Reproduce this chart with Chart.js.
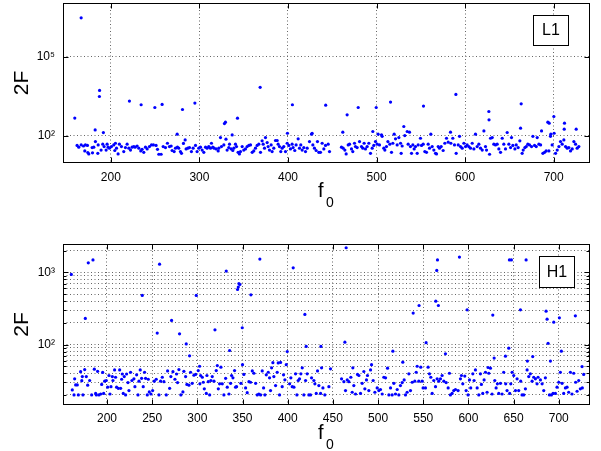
<!DOCTYPE html>
<html><head><meta charset="utf-8">
<script src="https://cdn.jsdelivr.net/npm/chart.js@4.4.0/dist/chart.umd.min.js"></script>
<style>
html,body{margin:0;padding:0;background:#fff;width:601px;height:451px;overflow:hidden}
canvas{position:absolute;left:0}
#c1{top:0px}
#c2{top:225px}
</style></head><body>
<canvas id="c1" width="601" height="220"></canvas>
<canvas id="c2" width="601" height="226"></canvas>
<script>
// ---- L1 detector (top panel) ----
const l1Freq = [
159.3,161.9,163.8,166.5,166.5,169.1,170.6,171.3,173.6,174.0,
175.1,178.9,179.3,180.8,182.3,182.6,185.3,185.7,187.1,187.3,
189.0,190.9,191.6,192.4,194.7,195.8,196.9,198.4,200.7,203.3,
204.5,205.2,206.4,208.2,209.7,212.0,214.6,216.5,218.4,220.3,
221.0,222.2,224.0,225.9,227.4,229.7,231.6,233.8,234.2,235.3,
237.2,239.1,241.0,243.6,245.9,248.1,249.7,251.1,252.7,254.2,
256.8,257.9,259.1,261.7,263.9,266.2,268.1,269.2,271.5,273.0,
274.9,275.2,276.7,278.6,279.8,280.9,282.0,283.9,285.0,286.9,
288.8,291.0,292.9,294.9,295.6,297.4,299.3,301.2,303.1,305.0,
306.9,308.7,310.6,312.5,313.6,315.1,316.6,318.9,321.2,321.9,
323.8,324.9,327.6,328.3,329.4,330.0,331.3,333.2,334.0,335.8,
337.0,337.7,338.9,340.7,341.9,343.0,343.7,345.2,346.4,348.3,
350.1,352.0,353.9,355.8,357.7,359.6,361.4,363.3,365.2,367.1,
368.6,369.0,370.8,372.0,373.5,374.6,376.5,377.6,379.1,381.0,
382.1,384.0,385.9,387.8,388.9,390.4,391.9,393.4,395.3,397.2,
399.1,399.4,401.0,402.8,404.7,405.0,405.8,407.7,409.2,411.5,
413.0,414.5,416.0,417.9,419.8,421.7,424.3,426.6,427.3,428.1,
429.9,431.8,433.3,434.8,436.7,438.6,440.5,442.4,442.6,445.4,
446.9,460.4,461.9,462.3,464.2,465.7,466.8,468.0,469.5,471.7,
473.2,475.1,476.2,478.1,479.3,480.8,483.0,484.5,486.0,487.5,
489.4,491.3,493.2,495.1,495.8,496.9,498.8,499.6,500.7,501.8,
503.3,505.6,506.3,508.2,509.4,511.2,512.8,515.0,515.8,516.9,
518.4,519.9,521.4,523.3,525.2,527.1,527.8,528.9,530.8,531.9,
534.6,535.7,537.2,538.3,539.5,541.0,542.5,544.0,545.9,547.0,
549.6,550.8,552.7,553.0,554.5,556.4,558.3,559.8,561.3,562.8,
564.7,566.6,567.7,569.6,571.1,573.0,575.2,577.1,579.0,580.9,
583.5,583.9,586.1,588.0,589.6,589.9,592.2,593.7,594.8,596.7,
598.6,600.5,602.3,604.2,606.1,608.0,609.9,611.7,613.6,615.5,
617.4,619.3,621.2,623.0,624.2,626.8,627.0,627.6,628.7,630.6,
632.4,634.3,636.2,638.1,640.0,641.9,643.7,645.6,647.5,649.4,
651.3,652.4,653.9,656.2,657.7,659.9,661.8,662.6,663.3,664.4,
665.6,667.5,669.0,670.8,672.7,675.0,676.5,678.4,680.3,681.4,
683.3,685.2,686.3,687.8,689.7,691.5,693.4,694.6,694.9,696.4,
696.8,698.3,700.2,700.5,702.1,704.0,705.9,707.7,709.6,711.5,
711.9,712.2,713.4,715.3,717.1,719.0,720.9,722.8,724.7,725.4,
726.5,728.4
];
const l1Value = [
464,42,36,44,3100000,40,26,44,42,22.5,
20,35,22,36,165,59,21,44,3100,5300,
28,47,130,38,28,47,36,33,38,44,
27,51,33,20,47,38,24.5,35,47,33,
2080,28,36,38,36,40,33,26,1500,30,
23,36,31,38,44,44,1180,42,30,19.4,
19.4,1540,38,35,51,38,40,27,24.5,33,
113,36,33,24.5,21,990,50,68,31,33,
35,24.5,33,1740,42,24.5,33,36,28,23,
36,33,38,33,51,36,33,31,26,33,
84,38,44,288,325,73,28,35,47,31,
106,27,33,47,38,462,23,20,24.5,38,
28,31,38,42,44,23,26,33,42,47,
6900,23,63,47,33,84,54,38,28,44,
24.5,33,65,65,47,38,24.5,33,38,24.5,
51,123,42,31,47,1500,35,27,44,75,
33,44,28,35,24.5,33,59,113,123,44,
33,27,59,23,23,51,31,42,1450,47,
24.5,36,135,33,28,20,620,44,47,31,
24.5,51,38,35,1180,59,38,33,51,31,
38,51,21,33,143,42,59,1180,47,113,
44,107,94,33,28,38,59,47,1890,23,
51,113,75,44,84,51,21,40,222,100,
143,47,135,38,21,44,31,38,21,44,
79,42,47,1330,24.5,23,47,33,113,38,
28,21,20,38,33,38,27,51,79,56,
135,51,79,44,3700,21,44,94,38,33,
51,38,44,38,33,51,31,113,38,47,
33,28,151,38,28,830,400,19.4,79,84,
47,44,47,31,23,79,47,31,131,47,
35,84,42,31,44,35,63,191,1630,21,
28,35,38,47,44,38,94,42,38,84,
47,44,151,21,23,26,325,26,297,94,
113,44,535,123,21,28,38,59,47,68,
175,297,38,33,35,26,31,59,47,175,
33,38
];
const l1XTicks = [200, 300, 400, 500, 600, 700];
const l1YTicks = [100, 100000];

// ---- H1 detector (bottom panel) ----
const h1Freq = [
160.5,161.6,163.5,164.2,165.3,167.1,168.3,170.8,172.1,172.7,
173.4,175.3,176.0,177.1,178.6,179.3,180.8,183.0,184.5,186.0,
187.4,188.2,189.6,191.1,193.0,194.1,195.2,196.3,197.4,199.2,
200.7,202.2,203.3,204.4,205.9,206.6,208.4,209.5,210.6,212.5,
214.0,215.1,216.2,216.9,218.0,219.1,220.6,221.7,223.2,224.3,
226.1,227.6,229.8,230.9,232.8,234.3,235.4,236.8,238.3,239.0,
240.1,241.6,242.7,244.6,245.7,246.8,248.6,250.5,252.3,254.5,
255.6,257.5,258.2,259.3,261.2,263.0,265.6,267.1,269.3,270.7,
271.5,273.0,275.2,277.0,278.1,279.6,280.3,281.8,284.0,285.1,
287.0,287.7,288.4,290.7,291.4,292.5,294.3,296.2,298.0,298.8,
301.0,302.5,302.8,303.6,305.5,306.6,307.7,309.9,310.6,312.1,
313.6,315.0,316.5,318.4,319.5,320.9,322.1,323.2,324.6,326.1,
327.6,329.4,331.3,332.0,333.1,335.0,335.7,336.8,337.9,339.4,
341.2,342.3,343.4,344.5,345.3,346.0,347.1,348.2,349.7,350.0,
351.5,353.4,355.2,357.1,358.9,359.3,360.8,362.6,364.5,366.3,
368.1,369.2,370.0,371.8,373.3,374.8,376.3,378.5,379.9,381.0,
382.2,383.6,384.7,386.6,388.4,389.5,391.0,392.1,393.9,395.4,
396.9,398.4,399.5,402.1,403.5,405.0,406.1,406.9,408.7,410.2,
411.6,413.1,414.6,416.1,417.9,419.0,419.8,420.5,421.6,423.4,
425.3,426.4,429.0,430.1,431.6,433.0,434.5,436.4,436.8,437.5,
439.0,441.1,445.6,447.4,459.6,462.2,463.3,464.0,464.7,465.9,
467.7,469.9,471.4,472.1,473.2,475.1,477.3,478.8,480.6,482.4,
484.3,485.4,487.2,488.3,489.8,491.7,492.8,494.6,496.5,499.0,
500.9,502.7,504.6,506.4,508.3,510.5,512.0,513.8,515.6,516.4,
517.5,519.3,521.2,523.0,524.8,526.7,527.4,528.9,530.4,532.2,
534.1,535.9,537.8,538.9,540.7,542.2,543.3,545.1,545.4,547.3,
548.8,549.9,552.5,553.2,555.4,556.9,558.4,559.9,561.7,563.6,
563.9,565.0,565.4,565.8,566.8,567.2,569.1,570.9,572.8,574.6,
575.4,577.6,579.0,580.1,582.0,583.8,585.7,588.6,590.1,591.2,
592.3,593.8,596.0,597.5,598.6,599.7,601.2,602.6,604.9,606.3,
607.8,609.7,611.5,613.3,614.4,615.9,617.4,618.9,620.7,621.8,
622.6,624.4,626.2,627.0,628.5,629.2,630.7,632.1,633.6,635.5,
637.3,639.1,641.0,641.3,642.8,644.7,645.4,645.7,646.9,647.6,
648.4,650.2,652.1,653.9,655.7,657.6,657.9,659.4,661.3,663.1,
663.9,665.0,665.3,666.8,668.6,670.5,671.2,672.3,674.2,676.0,
677.1,679.7,681.6,683.4,685.2,686.0,687.1,688.2,689.7,690.8,
691.9,693.7,694.5,696.3,698.1,700.0,700.7,701.8,702.9,703.7,
705.5,707.4,709.2,711.0,712.9,714.7,716.6,718.4,718.7,720.3,
722.1,723.9,725.8,726.1,727.6
];
const h1Value = [
940,23.5,20,33.4,27.5,27.5,20,42,31.5,36,
20,45,230,36,27.3,1360,31.7,20,1490,45.5,
21,20,42.5,20,20.6,28,41,21,31,31.7,
25.6,37.2,20.6,26,36,31.7,44.5,35.2,25.6,24.7,
44.5,24.7,33,39,21,36,20,39,29.7,23,
41.3,31.7,33.4,26,38,20,31,44.5,34,480,
26,41.3,34,20,33,22,20.6,23,31,33,
144,20,1300,31,35.2,30.5,20,43,24.7,36,
216,42,33,39,29.7,45,141,20,22,42.5,
36,102,28,27.3,69.7,41.3,29,37.5,38.5,480,
43.6,50,28.5,37.2,35.2,30,24.3,21,37.2,30.5,
20,31.7,36,31,160,43.6,51,24.3,28.5,48.5,
28.5,20,34,1045,25.6,20.6,82.6,29,37.2,34.5,
43.6,25.6,26,580,626,700,680,29,171,52.5,
38.5,25,21.5,30.5,30,490,43,40,29,20,
20.6,1530,20,43,25,20,38,41.3,34.5,23,
47.5,56,36,27,41.3,55.5,20,56.5,26,38,
32.4,52.5,80,28.5,34.5,26,1160,25.6,39.2,20,
31.7,33.4,39.2,47.5,20,262,31.7,94,39.2,20,
20,34.5,31.7,28.5,21,43,27,21,94,47.5,
25,20,26,46,33.4,30.5,108,23,2200,32.3,
30.5,35.2,21.8,47.5,27,20.6,38.5,37.2,21,29,
42.3,24.3,32.3,37.2,23,44.5,52.5,31.7,21.8,25,
23,23.8,20.6,35.2,34.5,47,20,25,20,81,
29,20.6,23.8,20,27,29.7,57,32.3,20,21.8,
39.2,23,30,273,31,41.3,50,31,348,48.5,
31,25,25,106,48.5,39.2,35.2,21,31.7,26,
400,1067,33.4,1490,348,31,33.4,37.2,31,74.3,
29.7,25,40,20,21,23,23.8,23,1634,33.4,
37.2,28.5,36.5,23,303,20,32.3,25,39.2,31.7,
44.5,25,20,39.2,28,21,32.3,41.3,21.8,48,
40,47,20.6,256,65,31.7,25,28.5,21,29,
20.6,41.3,69,28.5,23,89,1490,21,28.5,1490,
41.3,37.2,23,33.4,23,303,31,20,20,24.3,
1490,44.5,59,36,39.2,31,68,35.2,33.4,28.5,
35.2,32.3,28.5,23,34.5,290,225,104,20,59,
20,21,204,21,25.6,30,235,41.3,81,29,
21,25,25.6,21.8,41.3,20.6,40,250,30,22.5,
31.7,24.3,49.5,25,38.5
];
const h1XTicks = [200, 250, 300, 350, 400, 450, 500, 550, 600, 650, 700];
const h1YTicks = [20, 30, 40, 50, 60, 70, 80, 90, 100, 200, 300, 400, 500, 600, 700, 800, 900, 1000, 2000];
const yTickLabels = {100: '10\u00B2', 1000: '10\u00B3', 100000: '10\u2075'};

const FAM = '"Liberation Sans", Arial, Helvetica, "DejaVu Sans", sans-serif';
Chart.defaults.font.family = FAM;
Chart.defaults.color = '#000';

const frame = {
  id: 'frame',
  afterDraw(chart, args, o) {
    const {ctx, chartArea: a, scales: {x, y}} = chart;
    ctx.save();
    ctx.strokeStyle = '#000';
    ctx.lineWidth = 1;
    const L = Math.round(a.left) + 0.5, R = Math.round(a.right) - 0.5;
    const T = Math.round(a.top) + 0.5, B = Math.round(a.bottom) - 0.5;
    ctx.beginPath();
    for (const t of x.ticks) {
      const px = Math.round(x.getPixelForValue(t.value)) + 0.5;
      ctx.moveTo(px, B); ctx.lineTo(px, B - o.major);
      ctx.moveTo(px, T); ctx.lineTo(px, T + o.major);
    }
    for (const t of y.ticks) {
      const len = t.label ? o.major : o.minor;
      const py = Math.round(y.getPixelForValue(t.value)) + 0.5;
      ctx.moveTo(L, py); ctx.lineTo(L + len, py);
      ctx.moveTo(R, py); ctx.lineTo(R - len, py);
    }
    ctx.stroke();
    ctx.strokeRect(L, T, R - L, B - T);
    // detector label box
    ctx.fillStyle = '#fff';
    ctx.fillRect(o.box[0], o.box[1], o.box[2], o.box[3]);
    ctx.strokeRect(o.box[0], o.box[1], o.box[2], o.box[3]);
    ctx.fillStyle = '#000';
    ctx.font = '16px ' + FAM;
    ctx.textAlign = 'center';
    ctx.textBaseline = 'middle';
    ctx.fillText(o.label, o.box[0] + o.box[2] / 2, o.box[1] + o.box[3] / 2 + 0.5);
    // x axis title f_0
    ctx.textAlign = 'left';
    ctx.textBaseline = 'alphabetic';
    ctx.font = '20px ' + FAM;
    ctx.fillText('f', o.fx, o.fy);
    ctx.font = '14px ' + FAM;
    ctx.fillText('0', o.fx + 8, o.fy + 10.5);
    ctx.restore();
  }
};

function makeChart(id, freq, vals, xTicks, yTicks, cfg) {
  const pts = freq.map((f, i) => ({x: f, y: vals[i]}));
  return new Chart(document.getElementById(id), {
    type: 'scatter',
    data: {datasets: [{data: pts, backgroundColor: '#0000ff', borderWidth: 0, pointRadius: 1.6, pointHoverRadius: 1.6}]},
    options: {
      responsive: false,
      animation: false,
      devicePixelRatio: 1,
      layout: {padding: {left: 0, right: 11, top: cfg.padTop, bottom: 0}},
      plugins: {legend: {display: false}, tooltip: {enabled: false}, frame: cfg.frame},
      scales: {
        x: {
          type: 'linear', min: cfg.xmin, max: cfg.xmax,
          afterBuildTicks: s => { s.ticks = xTicks.map(v => ({value: v})); },
          afterFit: s => { s.height = cfg.xHeight; s.paddingLeft = 0; s.paddingRight = 0; },
          ticks: {autoSkip: false, maxRotation: 0, padding: cfg.xPad, font: {size: 12}, color: '#000'},
          grid: {color: '#666', lineWidth: 1, drawTicks: false},
          border: {display: false, dash: [1, 2.5]}
        },
        y: {
          type: 'logarithmic', min: cfg.ymin, max: cfg.ymax,
          afterBuildTicks: s => { s.ticks = yTicks.map(v => ({value: v})); },
          afterFit: s => { s.width = 63; s.paddingTop = 0; s.paddingBottom = 0; },
          ticks: {autoSkip: false, padding: 8, font: {size: 12}, color: '#000',
                  callback: v => yTickLabels[v] || ''},
          grid: {color: '#666', lineWidth: 1, drawTicks: false},
          border: {display: false, dash: [1, 2.5]},
          title: {display: true, text: '2F', font: {size: 21}, color: '#000', padding: {top: 10, bottom: 0}}
        }
      }
    },
    plugins: [frame]
  });
}

makeChart('c1', l1Freq, l1Value, l1XTicks, l1YTicks, {
  padTop: 3, xHeight: 57, xPad: 7, xmin: 146, xmax: 741, ymin: 9, ymax: 1.14e7,
  frame: {major: 5, minor: 3, label: 'L1', box: [533.5, 15.5, 35, 30], fx: 318, fy: 196.5}
});
makeChart('c2', h1Freq, h1Value, h1XTicks, h1YTicks, {
  padTop: 19, xHeight: 46, xPad: 6, xmin: 151.3, xmax: 734.6, ymin: 14.5, ymax: 2480,
  frame: {major: 5, minor: 3, label: 'H1', box: [539.5, 31.5, 35, 31], fx: 318, fy: 213.5}
});
</script>
</body></html>
